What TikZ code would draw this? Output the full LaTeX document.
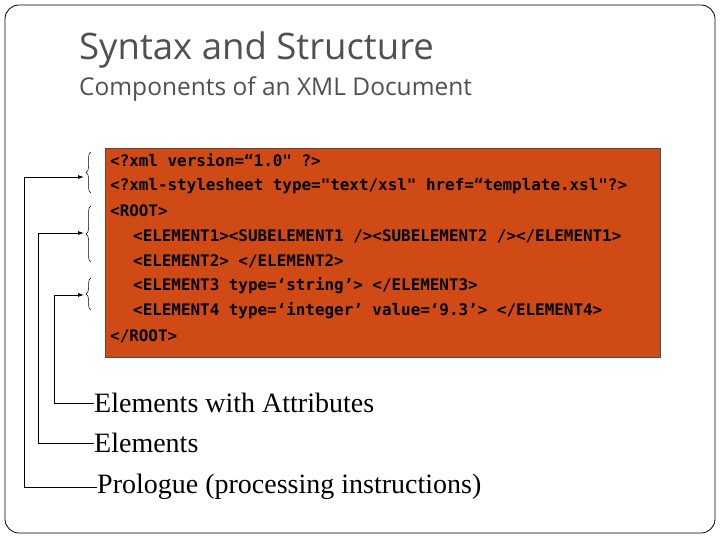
\documentclass[tikz,border=0pt]{standalone}
\usepackage{fontspec}
\setmainfont{Liberation Serif}
\newfontfamily\titlefont{Open Sans}
\newfontfamily\codefont{DejaVu Sans Mono}
\usetikzlibrary{arrows.meta,decorations.pathreplacing}
\definecolor{codebg}{RGB}{208,74,22}
\definecolor{titlegray}{RGB}{80,80,80}
\begin{document}
\begin{tikzpicture}[x=1pt,y=-1pt,
  codeline/.style={anchor=west,inner sep=0pt,text=black,font=\codefont\bfseries\fontsize{15.9}{16}\selectfont},
  lbl/.style={anchor=west,inner sep=0pt,font=\fontsize{28}{28}\selectfont},
  conn/.style={line width=0.8pt,-{Latex[length=6pt,width=4pt]}},
  br/.style={decorate,decoration={brace,amplitude=5pt,mirror},line width=0.5pt}]
\useasboundingbox (0,0) rectangle (720,540);
\draw[rounded corners=14pt,line width=0.8pt] (5,5) rectangle (715,533);
\node[anchor=west,inner sep=0pt,text=titlegray,font=\titlefont\fontsize{36.5}{36}\selectfont] (t) at (79,50) {Syntax and Structure};
\node[anchor=west,inner sep=0pt,text=titlegray,font=\titlefont\fontsize{24.5}{24}\selectfont] (st) at (79,89) {Components of an XML Document};
\node[draw=black!70,fill=codebg,minimum width=555pt,minimum height=209pt,anchor=north west,inner sep=0pt] (box) at (105,148) {};
\node[codeline] (c1) at (110,160) {<?xml version=“1.0" ?>};
\node[codeline] (c2) at (110,186) {<?xml-stylesheet type="text/xsl" href=“template.xsl"?>};
\node[codeline] (c3) at (110,211) {<ROOT>};
\node[codeline] (c4) at (133,236) {<ELEMENT1><SUBELEMENT1 /><SUBELEMENT2 /></ELEMENT1>};
\node[codeline] (c5) at (133,261) {<ELEMENT2> </ELEMENT2>};
\node[codeline] (c6) at (133,286) {<ELEMENT3 type=‘string’> </ELEMENT3>};
\node[codeline] (c7) at (133,311) {<ELEMENT4 type=‘integer’ value=‘9.3’> </ELEMENT4>};
\node[codeline] (c8) at (110,336) {</ROOT>};
\draw[br] (91,152) -- (91,193);
\draw[br] (91,206) -- (91,262);
\draw[br] (91,278) -- (91,310);
\coordinate (a1) at (84,177);
\coordinate (a2) at (84,233);
\coordinate (a3) at (84,295);
\node[lbl] (l3) at (94,403) {Elements with Attributes};
\node[lbl] (l2) at (94,443) {Elements};
\node[lbl] (l1) at (97,487) {Prologue (processing instructions)};
\draw[conn] (l1.west) -| (24,177) -- (a1);
\draw[conn] (l2.west) -| (38,233) -- (a2);
\draw[conn] (l3.west) -| (54,295) -- (a3);
\end{tikzpicture}
\end{document}
